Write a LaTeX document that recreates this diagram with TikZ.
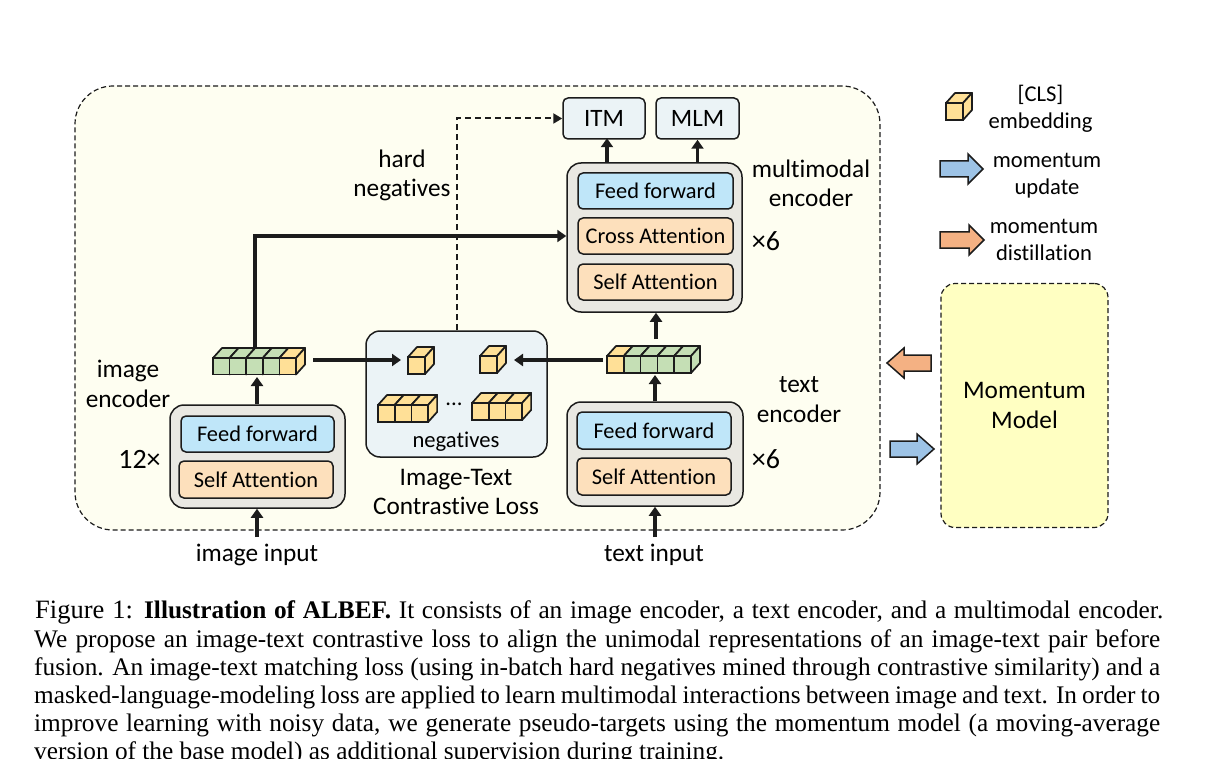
\documentclass[tikz,border=0pt]{standalone}
\usepackage{fontspec}
\setmainfont{Carlito}[Ligatures=NoCommon]
\newfontfamily\capfont{Liberation Serif}
\usetikzlibrary{arrows.meta,shapes.arrows}
\definecolor{panelbg}{HTML}{FEFEF1}
\definecolor{momfill}{HTML}{FFFFC2}
\definecolor{encfill}{HTML}{E9E8E2}
\definecolor{fffill}{HTML}{BFE6F9}
\definecolor{attfill}{HTML}{FDE0BC}
\definecolor{lossfill}{HTML}{EBF3F6}
\definecolor{cubeg}{HTML}{C5DFB5}
\definecolor{cubey}{HTML}{FFE097}
\definecolor{upblue}{HTML}{9DC3E6}
\definecolor{distor}{HTML}{F4B183}
\definecolor{ink}{HTML}{1C1C1C}
\tikzset{
  x=1pt,y=-1pt,
  panel/.style={draw=ink,line width=1.2pt,dash pattern=on 5pt off 3pt,rounded corners=#1},
  encbox/.style={draw=ink,line width=1.5pt,fill=encfill,rounded corners=14pt,inner sep=0pt},
  ffbox/.style={draw=ink,line width=1.5pt,fill=fffill,rounded corners=5pt,inner sep=0pt,font=\fontsize{22.4}{26}\selectfont,text=black},
  attbox/.style={draw=ink,line width=1.5pt,fill=attfill,rounded corners=5pt,inner sep=0pt,font=\fontsize{22.4}{26}\selectfont,text=black},
  headbox/.style={draw=ink,line width=1.5pt,fill=lossfill,rounded corners=5pt,inner sep=0pt,font=\fontsize{25}{29}\selectfont},
  lab/.style={inner sep=0pt,align=center,font=\fontsize{25.3}{29.5}\selectfont},
  timeslab/.style={inner sep=0pt,font=\fontsize{28}{30}\selectfont},
  leg/.style={inner sep=0pt,align=center,font=\fontsize{22.6}{27}\selectfont},
  flow/.style={line width=3.2pt,ink,-{Triangle[length=9pt,width=12pt]}},
  dflow/.style={line width=2pt,ink,dash pattern=on 6pt off 4pt,-{Triangle[length=9pt,width=10pt]}},
  blockarrow/.style={draw=ink,line width=1.5pt,fill=#1,miter limit=10},
  capline/.style={anchor=base west,inner sep=0pt,font=\capfont\fontsize{25.3}{28}\selectfont},
}
% cuberow: x, y of front top-left, cell width, height, colour list
\newcommand\cuberow[5]{%
  \foreach \cc [count=\ii from 0] in {#5}{%
    \draw[ink,line width=1.7pt,line join=round,fill=\cc]
      (#1+\ii*#3,#2) -- (#1+\ii*#3+9,#2-10) -- (#1+\ii*#3+#3+9,#2-10) -- (#1+\ii*#3+#3,#2) -- cycle;
    \draw[ink,line width=1.7pt,line join=round,fill=\cc]
      (#1+\ii*#3+#3,#2) -- (#1+\ii*#3+#3+9,#2-10) -- (#1+\ii*#3+#3+9,#2+#4-10) -- (#1+\ii*#3+#3,#2+#4) -- cycle;
    \draw[ink,line width=1.7pt,fill=\cc] (#1+\ii*#3,#2) rectangle (#1+\ii*#3+#3,#2+#4);
  }}
\begin{document}
\begin{tikzpicture}
\useasboundingbox (0,0) rectangle (1214,759);
\fill[white] (0,0) rectangle (1214,759);
% main panel
\node[panel=38pt,fill=panelbg,minimum width=805pt,minimum height=444pt,inner sep=0pt] (main) at (477.5,308) {};
\node[panel=14pt,fill=momfill,minimum width=167pt,minimum height=244pt,inner sep=0pt,lab] (mom) at (1024.5,405.5) {Momentum\\Model};
% image encoder
\node[encbox,minimum width=175pt,minimum height=103pt] (imgenc) at (257.5,456.5) {};
\node[ffbox,minimum width=153pt,minimum height=36pt] (imgff) at (257.5,434) {Feed forward};
\node[attbox,minimum width=154pt,minimum height=37pt] (imgsa) at (256,479.5) {Self Attention};
% text encoder
\node[encbox,minimum width=176pt,minimum height=104pt] (txtenc) at (655,454) {};
\node[ffbox,minimum width=154pt,minimum height=37pt] (txtff) at (654,430.5) {Feed forward};
\node[attbox,minimum width=154pt,minimum height=37pt] (txtsa) at (654,476.5) {Self Attention};
% multimodal encoder
\node[encbox,minimum width=175pt,minimum height=149pt] (mmenc) at (654.5,237.5) {};
\node[ffbox,minimum width=155pt,minimum height=36pt] (mmff) at (655.5,191) {Feed forward};
\node[attbox,minimum width=155pt,minimum height=36pt] (mmca) at (655.5,236) {Cross Attention};
\node[attbox,minimum width=155pt,minimum height=36pt] (mmsa) at (655.5,282) {Self Attention};
% heads
\node[headbox,minimum width=82pt,minimum height=41pt] (itm) at (604,118.5) {ITM};
\node[headbox,minimum width=83pt,minimum height=41pt] (mlm) at (697.5,118.5) {MLM};
% loss box
\node[draw=ink,line width=1.5pt,fill=lossfill,rounded corners=14pt,minimum width=181pt,minimum height=126pt,inner sep=0pt] (loss) at (456.5,394) {};
% cube rows
\cuberow{213}{358}{16.6}{16.5}{cubeg,cubeg,cubeg,cubeg,cubey}
\cuberow{607}{356}{16.8}{17}{cubey,cubeg,cubeg,cubeg,cubeg}
\cuberow{408}{357}{17}{17}{cubey}
\cuberow{480}{356}{17}{17}{cubey}
\cuberow{378}{405}{16.7}{17}{cubey,cubey,cubey}
\cuberow{472}{403}{16.7}{17}{cubey,cubey,cubey}
\cuberow{946}{103}{17}{17}{cubey}
% named cube anchors
\coordinate (imgrow) at (255,348);
\coordinate (imgrowout) at (313,360);
\coordinate (imgrowbot) at (257,377);
\coordinate (imgcube) at (401,360);
\coordinate (txtcube) at (514,360);
\coordinate (txtrowout) at (603,360);
\coordinate (txtrowbot) at (655,375);
\coordinate (txtrowtop) at (656,339);
\coordinate (imginp) at (257,537);
\coordinate (txtinp) at (655,537);
% connectors
\draw[flow] (imgenc.north -| imgrowbot) -- (imgrowbot);
\draw[flow] (imginp) -- (imginp |- imgenc.south);
\draw[flow] (txtinp) -- (txtinp |- txtenc.south);
\draw[flow] (txtenc.north -| txtrowbot) -- (txtrowbot);
\draw[flow] (txtrowtop) -- (txtrowtop |- mmenc.south);
\draw[flow] (imgrow) -- (imgrow |- mmca) -- (mmenc.west |- mmca);
\draw[flow] (imgrowout) -- (imgcube);
\draw[flow] (txtrowout) -- (txtcube);
\draw[flow] (itm.south |- mmenc.north) ++(3,0) -- ++(0,-24);
\draw[flow] (mlm.south |- mmenc.north) -- (mlm.south);
\draw[dflow] (loss.north) -- (loss.north |- itm) -- (itm.west);
% block arrows
\draw[blockarrow=distor] (931,355) -- (904,355) -- (904,348) -- (887,363) -- (904,378) -- (904,371) -- (931,371) -- cycle;
\draw[blockarrow=upblue] (890,441) -- (917,441) -- (917,434) -- (934,449) -- (917,464) -- (917,457) -- (890,457) -- cycle;
\draw[blockarrow=upblue] (940,161) -- (968,161) -- (968,154) -- (983,169) -- (968,184) -- (968,177) -- (940,177) -- cycle;
\draw[blockarrow=distor] (940,232) -- (969,232) -- (969,225) -- (984,240) -- (969,255) -- (969,248) -- (940,248) -- cycle;
% labels
\node[lab] (l1) at (128,384) {image\\encoder};
\node[timeslab] (l2) at (139.5,459) {12×};
\node[lab] (l3) at (799,399.5) {text\\encoder};
\node[timeslab] (l4) at (766,459) {×6};
\node[timeslab] (l5) at (766,241) {×6};
\node[lab] (l6) at (811,183.5) {multimodal\\encoder};
\node[lab] (l7) at (402,175.5) {hard\\negatives};
\node[lab] (l8) at (456,492) {Image-Text\\Contrastive Loss};
\node[lab] (l9) at (257,555) {image input};
\node[lab] (l10) at (654,555) {text input};
\node[leg] (l11) at (456,441.5) {negatives};
\node[leg] (l12) at (454,404) {...};
\node[leg] (l13) at (1040.5,109) {[CLS]\\embedding};
\node[leg] (l14) at (1047,176) {momentum\\update};
\node[leg] (l15) at (1044,239.5) {momentum\\distillation};
% caption
\node[capline] (c1) at (35,618) {\hbox to 1128pt{{\fontsize{26.5}{28}\selectfont Figure 1:} \textbf{Illustration of ALBEF.} It consists of an image encoder, a text encoder, and a multimodal encoder.}};
\node[capline] (c2) at (34,647) {\hbox to 1126pt{We propose an image-text contrastive loss to align the unimodal representations of an image-text pair before}};
\node[capline] (c3) at (34,675) {\hbox to 1126pt{fusion. An image-text matching loss (using in-batch hard negatives mined through contrastive similarity) and a}};
\node[capline] (c4) at (34,703) {\hbox to 1126pt{masked-language-modeling loss are applied to learn multimodal interactions between image and text. In order to}};
\node[capline] (c5) at (34,731) {\hbox to 1126pt{improve learning with noisy data, we generate pseudo-targets using the momentum model (a moving-average}};
\node[capline] (c6) at (34,759) {version of the base model) as additional supervision during training.};
\end{tikzpicture}
\end{document}
